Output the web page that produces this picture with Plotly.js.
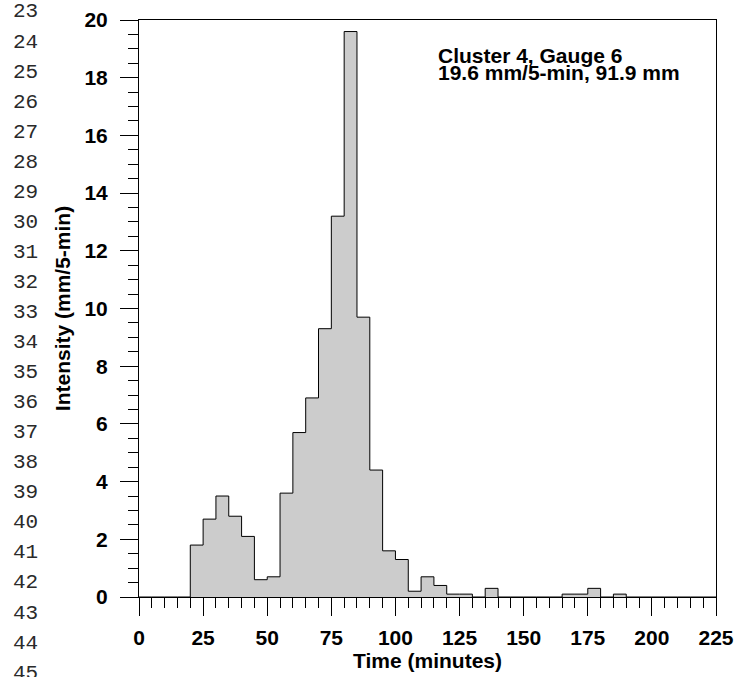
<!DOCTYPE html>
<html>
<head>
<meta charset="utf-8">
<script src="https://cdn.plot.ly/plotly-3.0.1.min.js"></script>
<style>html,body{margin:0;padding:0;background:#fff;}#chart{width:737px;height:677px;}</style>
</head>
<body>
<div id="chart"></div>
<script>
// 5-minute bin start times (minutes)
const binStart = [0,5,10,15,20,25,30,35,40,45,50,55,60,65,70,75,80,85,90,95,100,105,110,115,120,125,130,135,140,145,150,155,160,165,170,175,180,185,190,195,200,205,210,215,220];
// Intensity per bin (mm/5-min)
const intensity = [0,0,0,0,1.8,2.7,3.5,2.8,2.1,0.6,0.7,3.6,5.7,6.9,9.3,13.2,19.6,9.7,4.4,1.6,1.3,0.2,0.7,0.4,0.1,0.1,0,0.3,0,0,0,0,0,0.1,0.1,0.3,0,0.1,0,0,0,0,0,0,0];
const binWidth = 5;
const xTicks = [0,25,50,75,100,125,150,175,200,225];
const yTicks = [0,2,4,6,8,10,12,14,16,18,20];
const annoLines = ["Cluster 4, Gauge 6", "19.6 mm/5-min, 91.9 mm"];
const lineNumbers = [23,24,25,26,27,28,29,30,31,32,33,34,35,36,37,38,39,40,41,42,43,44,45];

const xs = binStart.concat([binStart[binStart.length-1] + binWidth]);
const ys = intensity.concat([intensity[intensity.length-1]]);

const L = 139, T = 20, W = 577, H = 577;
function px2x(px){ return (px - L) / W; }
function py2y(py){ return (T + H - py) / H; }

const F = 'Liberation Sans, Arial, Helvetica, sans-serif';
const fontB = {family: F, size: 21, color: '#000', weight: 'bold'};

const annotations = [];
annoLines.forEach((t, i) => {
  annotations.push({
    text: t, xref: 'paper', yref: 'paper', x: px2x(437), y: py2y(55 + i*17.5),
    xanchor: 'left', yanchor: 'middle', showarrow: false, font: fontB, borderpad: 0
  });
});
lineNumbers.forEach((n, i) => {
  annotations.push({
    text: String(n), xref: 'paper', yref: 'paper', x: px2x(11), y: py2y(12 + i*30.05),
    xanchor: 'left', yanchor: 'middle', showarrow: false,
    font: {family: 'Liberation Mono, Courier New, monospace', size: 21, color: '#2a2a2a'}
  });
});

const trace = {
  type: 'scatter', mode: 'lines', x: xs, y: ys,
  line: {shape: 'hv', color: '#000', width: 1},
  fill: 'tozeroy', fillcolor: '#cccccc', hoverinfo: 'skip'
};

const layout = {
  width: 737, height: 677,
  margin: {l: L, r: 737 - L - W, t: T, b: 677 - T - H},
  paper_bgcolor: '#fff', plot_bgcolor: '#fff',
  showlegend: false,
  xaxis: {
    range: [0, 225], tickvals: xTicks, ticks: 'outside', ticklen: 18, tickwidth: 1, tickcolor: '#000',
    showline: true, linecolor: '#000', linewidth: 1, mirror: true, showgrid: false, zeroline: false,
    tickfont: fontB, ticklabelstandoff: 4,
    minor: {dtick: 5, ticks: 'outside', ticklen: 10, tickcolor: '#000', tickwidth: 1, showgrid: false},
    title: {text: 'Time (minutes)', font: fontB, standoff: 0},
    automargin: false
  },
  yaxis: {
    range: [0, 20], tickvals: yTicks, ticks: 'outside', ticklen: 18, tickwidth: 1, tickcolor: '#000',
    showline: true, linecolor: '#000', linewidth: 1, mirror: true, showgrid: false, zeroline: false,
    tickfont: fontB, ticklabelstandoff: 8,
    minor: {dtick: 0.5, ticks: 'outside', ticklen: 10, tickcolor: '#000', tickwidth: 1, showgrid: false},
    title: {text: 'Intensity (mm/5-min)', font: fontB, standoff: 8},
    automargin: false
  },
  annotations: annotations
};

Plotly.newPlot('chart', [trace], layout, {staticPlot: true, displayModeBar: false});
</script>
</body>
</html>
